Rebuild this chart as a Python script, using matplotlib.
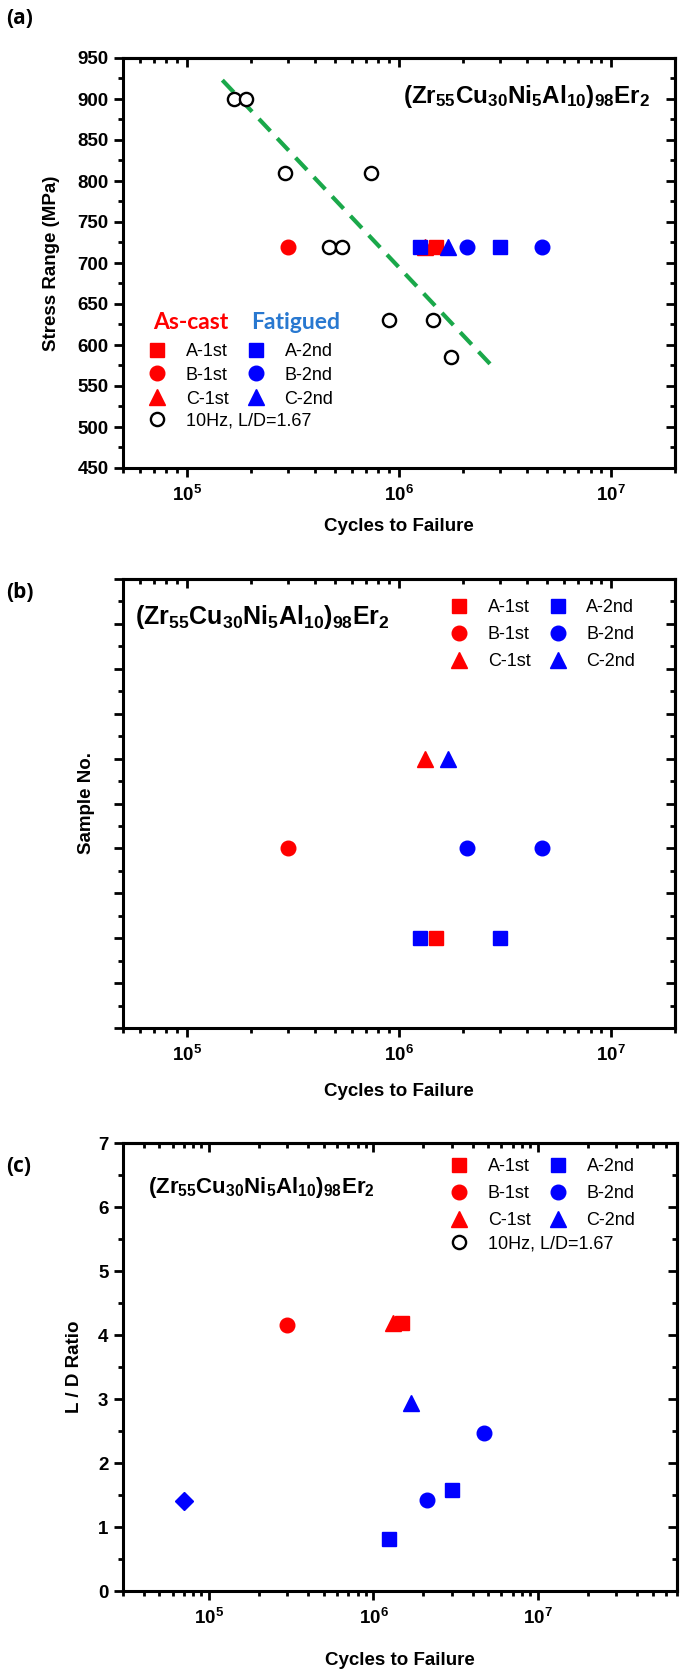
import matplotlib
matplotlib.use("Agg")
import matplotlib.pyplot as plt
from matplotlib.lines import Line2D
from matplotlib.ticker import MultipleLocator, LogLocator, FuncFormatter, NullFormatter
import numpy as np

# Sample data (cycles to failure)
a1_cycles = [1.5e6]
a2_cycles = [1.25e6, 3.0e6]
b1_cycles = [3.0e5]
b2_cycles = [2.1e6, 4.7e6]
c1_cycles = [1.32e6]
c2_cycles = [1.7e6]

# (a) stress range
stress_fatigue = 720
hz10_cycles = [1.66e5, 1.89e5, 2.9e5, 7.4e5, 4.7e5, 5.4e5, 9.0e5, 1.45e6, 1.75e6]
hz10_stress = [900, 900, 810, 810, 720, 720, 630, 630, 585]
fit_cycles = [1.47e5, 2.8e6]
fit_stress = [923, 572]

# (b) sample number
a_sample = 2
b_sample = 4
c_sample = 6

# (c) L/D ratio
a1_ld = [4.18]
a2_ld = [0.82, 1.58]
b1_ld = [4.15]
b2_ld = [1.42, 2.47]
c1_ld = [4.18]
c2_ld = [2.93]
diamond_cycles = [7.0e4]
diamond_ld = [1.4]

formula = r"$(Zr_{55}Cu_{30}Ni_{5}Al_{10})_{98}Er_{2}$"

plt.rcParams["font.family"] = ["Liberation Sans", "DejaVu Sans"]
plt.rcParams["font.weight"] = "bold"
plt.rcParams["mathtext.fontset"] = "custom"
plt.rcParams["mathtext.rm"] = "Liberation Sans:bold"
plt.rcParams["mathtext.bf"] = "Liberation Sans:bold"
plt.rcParams["mathtext.it"] = "Liberation Sans:bold"
plt.rcParams["mathtext.default"] = "bf"

RED = "#ff0000"
BLUE = "#0000ff"

W, H = 685, 1676
fig = plt.figure(figsize=(W / 100, H / 100), dpi=100)


def add_axes(left, top, right, bottom):
    return fig.add_axes([left / W, 1 - bottom / H, (right - left) / W, (bottom - top) / H])


def pow_fmt(v, pos):
    e = int(round(np.log10(v)))
    return r"$10^{%d}$" % e


def style_axes(ax, xlim, ylim, ymajor, yminor, ylabels=True):
    ax.set_xscale("log")
    ax.set_xlim(*xlim)
    ax.set_ylim(*ylim)
    for s in ax.spines.values():
        s.set_linewidth(2.2)
    ax.xaxis.set_major_locator(LogLocator(base=10, numticks=10))
    ax.xaxis.set_minor_locator(LogLocator(base=10, subs=np.arange(2, 10), numticks=20))
    ax.xaxis.set_major_formatter(FuncFormatter(pow_fmt))
    ax.xaxis.set_minor_formatter(NullFormatter())
    ax.yaxis.set_major_locator(MultipleLocator(ymajor))
    ax.yaxis.set_minor_locator(MultipleLocator(yminor))
    ax.tick_params(which="major", direction="out", length=6.5, width=2, labelsize=13.5, pad=4)
    ax.tick_params(axis="x", which="major", pad=6)
    ax.tick_params(which="minor", direction="out", length=3.5, width=2)
    if not ylabels:
        ax.yaxis.set_major_formatter(NullFormatter())
    # mirrored ticks on top and right, pointing inwards
    top = ax.secondary_xaxis("top")
    top.xaxis.set_major_locator(LogLocator(base=10, numticks=10))
    top.xaxis.set_minor_locator(LogLocator(base=10, subs=np.arange(2, 10), numticks=20))
    top.tick_params(which="major", direction="in", length=6.5, width=2, labeltop=False)
    top.tick_params(which="minor", direction="in", length=3.5, width=2)
    right = ax.secondary_yaxis("right")
    right.yaxis.set_major_locator(MultipleLocator(ymajor))
    right.yaxis.set_minor_locator(MultipleLocator(yminor))
    right.tick_params(which="major", direction="in", length=6.5, width=2, labelright=False)
    right.tick_params(which="minor", direction="in", length=3.5, width=2)
    for sec in (top, right):
        for s in sec.spines.values():
            s.set_linewidth(2.2)


def sample_handles():
    return [
        Line2D([], [], ls="none", marker="s", ms=9.5, color=RED, label="A-1st"),
        Line2D([], [], ls="none", marker="o", ms=10.5, color=RED, label="B-1st"),
        Line2D([], [], ls="none", marker="^", ms=11, color=RED, label="C-1st"),
        Line2D([], [], ls="none", marker="s", ms=9.5, color=BLUE, label="A-2nd"),
        Line2D([], [], ls="none", marker="o", ms=10.5, color=BLUE, label="B-2nd"),
        Line2D([], [], ls="none", marker="^", ms=11, color=BLUE, label="C-2nd"),
    ]


hz_handle = Line2D([], [], ls="none", marker="o", ms=9.5, mfc="white", mec="black",
                   mew=1.7, label="10Hz, L/D=1.67")
leg_kw = dict(frameon=False, handlelength=1.0, handletextpad=1.1, borderpad=0,
              borderaxespad=0, prop={"weight": "normal", "size": 13})
label_kw = dict(fontsize=13.5, fontweight="bold")

# ---------------- (a) ----------------
ax_a = add_axes(123, 58, 675, 468)
ax = ax_a
style_axes(ax, (5e4, 2e7), (450, 950), 50, 25)
ax.plot(fit_cycles, fit_stress, color="#1aa84a", lw=3, ls=(0, (4, 2.4)), zorder=2)
ax.plot(hz10_cycles, hz10_stress, ls="none", marker="o", ms=9.5, mfc="white", mec="black",
        mew=1.7, zorder=3)
ax.plot(b1_cycles, [stress_fatigue], ls="none", marker="o", ms=10.5, color=RED, zorder=4)
ax.plot(c1_cycles, [stress_fatigue], ls="none", marker="^", ms=11, color=RED, zorder=4)
ax.plot(a2_cycles, [stress_fatigue] * 2, ls="none", marker="s", ms=9.5, color=BLUE, zorder=4)
ax.plot(a1_cycles, [stress_fatigue], ls="none", marker="s", ms=9.5, color=RED, zorder=4)
ax.plot(c2_cycles, [stress_fatigue], ls="none", marker="^", ms=11, color=BLUE, zorder=4)
ax.plot(b2_cycles, [stress_fatigue] * 2, ls="none", marker="o", ms=10.5, color=BLUE, zorder=4)
ax.text(0.955, 0.905, formula, transform=ax.transAxes, ha="right", va="center", fontsize=17.5)
ax.set_ylabel("Stress Range (MPa)", **label_kw)
ax.set_xlabel("Cycles to Failure", **label_kw)
ax.yaxis.set_label_coords(-0.114, 0.5)
ax.xaxis.set_label_coords(0.5, -0.122)
ax.text(0.122, 0.354, "As-cast", transform=ax.transAxes, ha="center", va="center",
        color=RED, fontsize=16.5, family="Lato", weight="bold")
ax.text(0.313, 0.354, "Fatigued", transform=ax.transAxes, ha="center", va="center",
        color="#2878d0", fontsize=16.5, family="Lato", weight="bold")
leg = ax.legend(handles=sample_handles(), ncol=2, loc="upper left",
                bbox_to_anchor=(0.045, 0.305), labelspacing=0.38, columnspacing=1.0, **leg_kw)
ax.add_artist(leg)
ax.legend(handles=[hz_handle], loc="center left", bbox_to_anchor=(0.045, 0.115), **leg_kw)

# ---------------- (b) ----------------
ax_b = add_axes(123, 579, 675, 1028)
ax = ax_b
style_axes(ax, (5e4, 2e7), (0, 10), 1, 0.5, ylabels=False)
ax.plot(b1_cycles, [b_sample], ls="none", marker="o", ms=10.5, color=RED)
ax.plot(b2_cycles, [b_sample] * 2, ls="none", marker="o", ms=10.5, color=BLUE)
ax.plot(c1_cycles, [c_sample], ls="none", marker="^", ms=11, color=RED)
ax.plot(c2_cycles, [c_sample], ls="none", marker="^", ms=11, color=BLUE)
ax.plot(a2_cycles, [a_sample] * 2, ls="none", marker="s", ms=9.5, color=BLUE)
ax.plot(a1_cycles, [a_sample], ls="none", marker="s", ms=9.5, color=RED)
ax.text(0.022, 0.915, formula, transform=ax.transAxes, ha="left", va="center", fontsize=18)
ax.set_ylabel("Sample No.", **label_kw)
ax.set_xlabel("Cycles to Failure", **label_kw)
ax.yaxis.set_label_coords(-0.051, 0.5)
ax.xaxis.set_label_coords(0.5, -0.1225)
ax.legend(handles=sample_handles(), ncol=2, loc="upper left", bbox_to_anchor=(0.592, 0.955),
          labelspacing=0.55, columnspacing=1.0, **leg_kw)

# ---------------- (c) ----------------
ax_c = add_axes(123, 1143, 677, 1591)
ax = ax_c
style_axes(ax, (3e4, 7e7), (0, 7), 1, 0.5)
ax.plot(diamond_cycles, diamond_ld, ls="none", marker="D", ms=9, color=BLUE)
ax.plot(b1_cycles, b1_ld, ls="none", marker="o", ms=10.5, color=RED)
ax.plot(c1_cycles, c1_ld, ls="none", marker="^", ms=11, color=RED)
ax.plot(a1_cycles, a1_ld, ls="none", marker="s", ms=9.5, color=RED)
ax.plot(c2_cycles, c2_ld, ls="none", marker="^", ms=11, color=BLUE)
ax.plot(b2_cycles, b2_ld, ls="none", marker="o", ms=10.5, color=BLUE)
ax.plot(a2_cycles, a2_ld, ls="none", marker="s", ms=9.5, color=BLUE)
ax.text(0.045, 0.9, formula, transform=ax.transAxes, ha="left", va="center", fontsize=16)
ax.set_ylabel("L / D Ratio", **label_kw)
ax.set_xlabel("Cycles to Failure", **label_kw)
ax.yaxis.set_label_coords(-0.072, 0.5)
ax.xaxis.set_label_coords(0.5, -0.136)
leg = ax.legend(handles=sample_handles(), ncol=2, loc="upper left",
                bbox_to_anchor=(0.59, 0.966), labelspacing=0.55, columnspacing=1.0, **leg_kw)
ax.add_artist(leg)
ax.legend(handles=[hz_handle], loc="center left", bbox_to_anchor=(0.59, 0.774), **leg_kw)

for ax in (ax_a, ax_b, ax_c):
    plt.setp(ax.get_yticklabels() + ax.get_xticklabels(), fontweight="bold")

# panel letters
for y, s in [(18, "(a)"), (592, "(b)"), (1166, "(c)")]:
    fig.text(6 / W, 1 - y / H, s, ha="left", va="center", fontsize=15, weight="bold",
             family="Open Sans")

fig.savefig("out.png", dpi=100)
